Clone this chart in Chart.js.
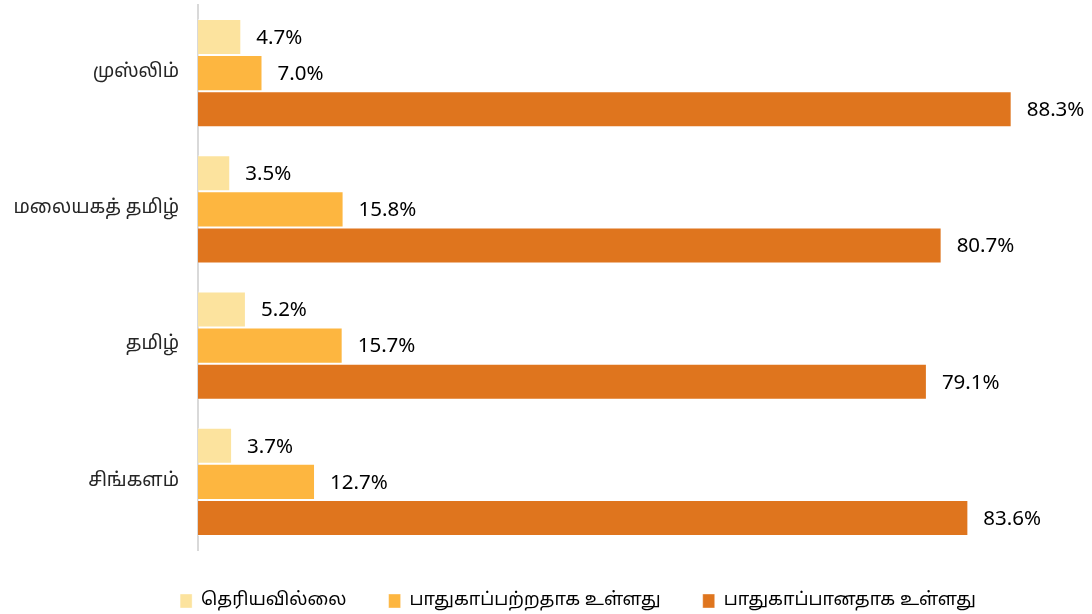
<!DOCTYPE html>
<html>
<head>
<meta charset="utf-8">
<script src="https://cdn.jsdelivr.net/npm/chart.js@4/dist/chart.umd.min.js"></script>
<style>
  html, body { margin: 0; padding: 0; background: #fff; }
  #wrap { width: 1092px; height: 614px; }
</style>
</head>
<body>
<div id="wrap"><canvas id="chart"></canvas></div>
<script>
// categories top to bottom
const groups = ['முஸ்லிம்', 'மலையகத் தமிழ்', 'தமிழ்', 'சிங்களம்'];
const seriesNames = ['தெரியவில்லை', 'பாதுகாப்பற்றதாக உள்ளது', 'பாதுகாப்பானதாக உள்ளது'];
const dontKnow = [4.7, 3.5, 5.2, 3.7];
const unsafe = [7.0, 15.8, 15.7, 12.7];
const safe = [88.3, 80.7, 79.1, 83.6];
const colors = ['#FCE39E', '#FDB640', '#DF751E'];

const tamilFont = '"Noto Sans Tamil", "Latha", "Noto Sans", sans-serif';

// draws the % value just past the end of every bar
const valueLabels = {
  id: 'valueLabels',
  afterDatasetsDraw(chart) {
    const ctx = chart.ctx;
    ctx.save();
    ctx.font = '20.5px "Noto Sans", "Liberation Sans", sans-serif';
    ctx.fillStyle = '#000';
    ctx.textBaseline = 'middle';
    ctx.textAlign = 'left';
    chart.data.datasets.forEach((ds, i) => {
      chart.getDatasetMeta(i).data.forEach((bar, j) => {
        ctx.fillText(ds.data[j].toFixed(1) + '%', bar.x + 15, bar.y + 1);
      });
    });
    ctx.restore();
  }
};

// legend: fixed height, and nudged right a little like the original
const legendTweak = {
  id: 'legendTweak',
  afterInit(chart) {
    const lg = chart.legend;
    const fit = lg.fit.bind(lg);
    lg.fit = function () { fit(); this.height = 64; };
  },
  afterLayout(chart) {
    chart.legend.left += 33;
    chart.legend.right += 33;
  }
};

new Chart(document.getElementById('chart'), {
  type: 'bar',
  data: {
    labels: groups,
    datasets: [
      { label: seriesNames[0], data: dontKnow, backgroundColor: colors[0] },
      { label: seriesNames[1], data: unsafe, backgroundColor: colors[1] },
      { label: seriesNames[2], data: safe, backgroundColor: colors[2] }
    ]
  },
  options: {
    indexAxis: 'y',
    responsive: true,
    maintainAspectRatio: false,
    animation: false,
    layout: { padding: { top: 5, right: 2, left: 0, bottom: 0 } },
    datasets: {
      bar: {
        barPercentage: 1,
        categoryPercentage: 0.794,
        borderWidth: { right: 1, top: 1, bottom: 1 },
        borderColor: 'rgba(255,255,255,0.5)'
      }
    },
    scales: {
      x: {
        min: 0,
        max: 96.8,
        display: false
      },
      y: {
        grid: { display: false, drawTicks: false },
        border: { display: true, color: '#D9D9D9', width: 2 },
        ticks: {
          color: '#262626',
          padding: 19,
          font: { size: 19, family: tamilFont }
        },
        afterFit(axis) {
          axis.width = 198;
          axis.paddingTop = 0;
          axis.paddingBottom = 0;
        }
      }
    },
    plugins: {
      legend: {
        position: 'bottom',
        labels: {
          boxWidth: 12,
          boxHeight: 14,
          padding: 42,
          color: '#000',
          font: { size: 18, family: tamilFont }
        }
      },
      tooltip: { enabled: false }
    }
  },
  plugins: [valueLabels, legendTweak]
});
</script>
</body>
</html>
